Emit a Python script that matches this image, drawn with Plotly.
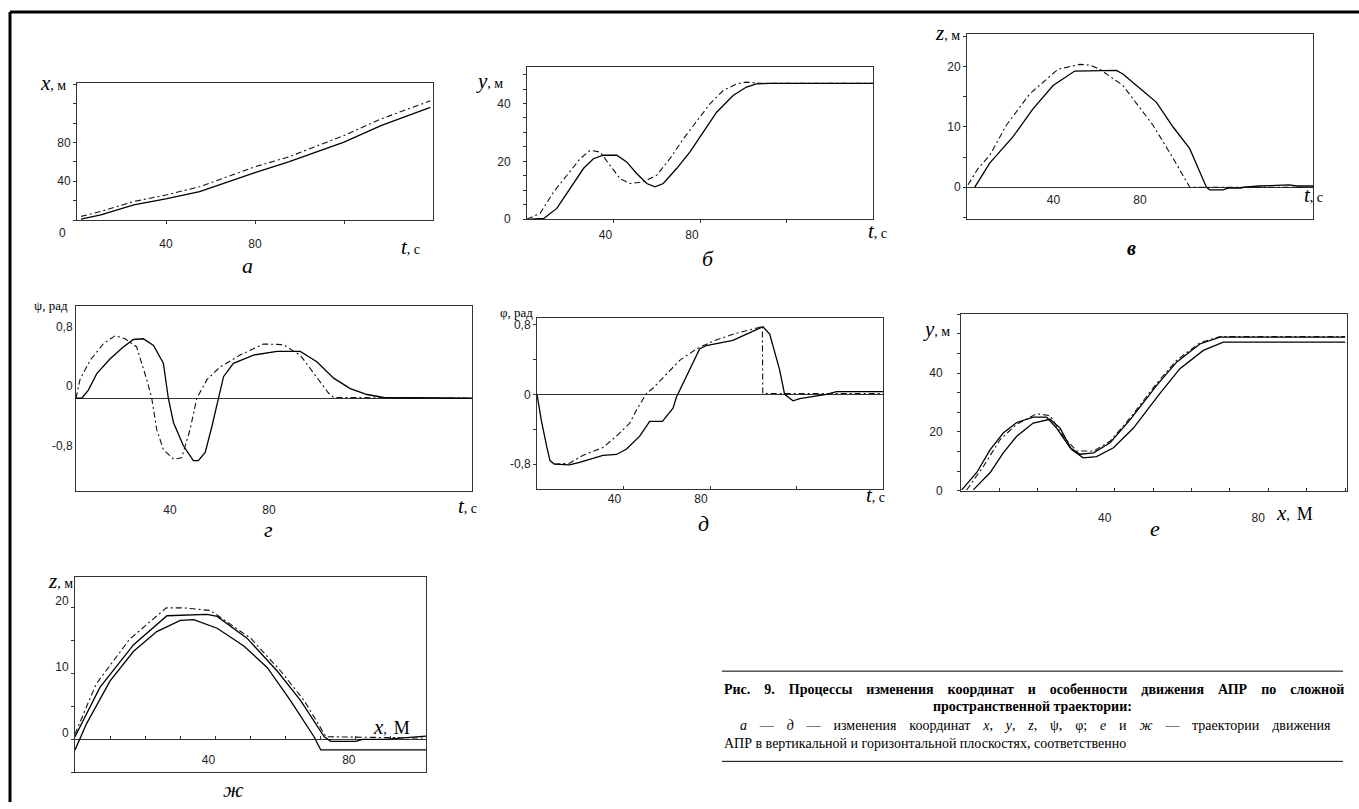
import plotly.graph_objects as go

W, H = 1359, 809

# ---------------- data ----------------
# а: x(t)
a_t_solid = [1.8, 10.7, 25.5, 39.9, 55.1, 69.9, 80, 95.1, 105.5, 120, 136.6, 158.8]
a_x_solid = [1, 5.4, 15.6, 21.8, 29.3, 41.2, 49, 60, 68.4, 80.4, 97.4, 116.1]
a_t_dd = [1.8, 10.7, 25.5, 39.9, 55.1, 69.9, 80, 95.1, 120, 136.6, 158.8]
a_x_dd = [3.8, 8.9, 19.1, 25.8, 34.4, 46.3, 54.9, 65.1, 87.1, 104.2, 122.9]

# б: y(t)
b_t_solid = [1.5, 7.7, 13.8, 20, 26.1, 30.7, 35.3, 41.5, 46.1, 50.7, 55.4, 59.2, 63, 69.2, 75.3, 81.5, 87.7, 95.3, 101.5, 106.1, 112.3, 160]
b_y_solid = [0, 0.2, 3.7, 10.6, 17.5, 20.9, 22.1, 22.1, 19.8, 15.8, 12.3, 11.2, 12.3, 17.5, 23.2, 30.1, 37, 42.8, 45.7, 46.8, 47, 47]
b_t_dd = [0, 6.1, 12.3, 18.5, 24.6, 29.2, 33.8, 38.4, 43, 47.7, 53.8, 60, 66.1, 72.3, 78.4, 84.6, 90.7, 96.9, 101.5, 107.7, 160]
b_y_dd = [0, 2, 9.4, 15.2, 20.9, 23.8, 23.2, 18.6, 14, 12.3, 12.9, 15.2, 20.9, 27.8, 33.6, 39.9, 44.5, 46.8, 47.4, 47, 47]

# в: z(t)
c_t_solid = [3.6, 10.5, 21.3, 30.5, 39.8, 49.8, 69.1, 72.1, 81.4, 87.6, 95.3, 103, 110.7, 112.2, 118.4, 120.7, 126.9, 128, 135.3, 149.2, 152.3, 160]
c_z_solid = [0, 4, 8.4, 13, 16.9, 19.3, 19.4, 18.8, 16, 14.1, 10, 6.4, 0, -0.44, -0.44, -0.16, -0.16, 0, 0.2, 0.38, 0.2, 0.2]
c_t_dd = [0.5, 5.1, 10.5, 18.2, 29, 42.1, 52.1, 56.7, 61.4, 72.1, 86, 95.3, 103, 160]
c_z_dd = [0.4, 3.1, 5.3, 10.3, 15.5, 19.6, 20.4, 20.3, 19.6, 16.9, 10.3, 4.8, 0, 0]

# г: psi(t)
d_t_solid = [0, 2.3, 5, 8.4, 13.8, 19.1, 23.2, 27.2, 31.3, 35.3, 37.3, 39.4, 43.4, 47.4, 49.4, 52.2, 54.9, 57.6, 59.6, 63.6, 71.7, 81.2, 90.6, 97.3, 104.1, 110.8, 117.6, 124.3, 160]
d_psi_solid = [0, 0, 0.11, 0.33, 0.53, 0.69, 0.79, 0.8, 0.71, 0.47, 0, -0.33, -0.64, -0.84, -0.84, -0.73, -0.38, 0, 0.29, 0.47, 0.58, 0.63, 0.63, 0.49, 0.27, 0.13, 0.05, 0.01, 0]
d_t_dd = [0, 1.6, 5.7, 11, 15.8, 19.8, 24.5, 28.6, 30.6, 32.6, 35.3, 39.4, 42.7, 46.1, 48.8, 52.9, 58.2, 66.3, 75.8, 83.8, 90.6, 97.3, 102, 104.1, 160]
d_psi_dd = [0, 0.25, 0.51, 0.73, 0.84, 0.8, 0.69, 0.25, 0, -0.42, -0.69, -0.82, -0.8, -0.42, 0, 0.25, 0.42, 0.58, 0.73, 0.72, 0.58, 0.29, 0.07, 0.01, 0]

# д: phi(t)
e_t_solid = [0, 2, 4.5, 6, 8, 15, 19.7, 30.5, 36.7, 41.3, 47.5, 52.1, 58, 62.9, 64.5, 66, 70.6, 75.2, 78.3, 90.6, 103, 104.5, 107.6, 112.2, 114.5, 118.4, 121.5, 133.8, 138.5, 160]
e_phi_solid = [0, -0.3, -0.6, -0.76, -0.8, -0.81, -0.78, -0.70, -0.69, -0.63, -0.48, -0.31, -0.31, -0.16, -0.03, 0.05, 0.28, 0.52, 0.56, 0.62, 0.76, 0.775, 0.69, 0.28, 0, -0.075, -0.05, 0, 0.03, 0.03]
e_t_dd = [8, 15, 21.3, 30.5, 36.7, 42.9, 46, 50.6, 53.6, 60, 66, 73.7, 81.4, 90.6, 103, 104.2, 104.4, 160]
e_phi_dd = [-0.8, -0.79, -0.70, -0.61, -0.48, -0.33, -0.18, 0.01, 0.07, 0.24, 0.39, 0.52, 0.61, 0.69, 0.77, 0.79, 0.01, 0.01]

# е: y(x)
f_x_A = [0.2, 4.1, 7.6, 11, 14.5, 18.8, 22.3, 24.9, 28.4, 31, 34.5, 38.8, 44, 51, 56.2, 62.2, 67.4, 100]
f_y_A = [0.3, 6.2, 14, 19.6, 23.2, 25, 25, 21.3, 14.6, 12.4, 12.9, 16.3, 24.1, 35.9, 43.8, 49.9, 52.2, 52.2]
f_x_B = [3.2, 7.6, 11, 14.5, 18.8, 23.2, 25.8, 28.8, 31.8, 35.3, 39.7, 44.9, 51.8, 57, 63.1, 68.3, 100]
f_y_B = [0.3, 6.2, 12.9, 18.5, 23, 24.3, 21.3, 14, 11.2, 11.6, 14.6, 21.3, 33.1, 41.5, 47.7, 50.5, 50.5]
f_x_dd = [1.5, 5.9, 10.2, 14.5, 19.7, 23.2, 26.6, 30.1, 34.5, 38.8, 44, 51, 56.2, 62.2, 67.4, 100]
f_y_dd = [0.3, 8.4, 17.4, 22.6, 26.2, 25.5, 18.5, 13.5, 13.5, 16.8, 24.7, 36.6, 44.4, 50.3, 52.4, 52.4]

# ж: z(x)
g_x_A = [0, 7.1, 16.7, 26.2, 37.6, 40.5, 49, 57.6, 64.3, 71, 72.9, 80, 82, 88, 100]
g_z_A = [0.4, 7.9, 14.4, 18.8, 19.0, 18.7, 15.4, 10.4, 5.9, 0.4, -0.3, -0.3, 0, 0, 0.5]
g_x_B = [0, 3.3, 10, 16.7, 23.3, 30, 33.8, 40.5, 48.1, 54.8, 61.4, 68.1, 70, 100]
g_z_B = [-1.6, 2.4, 8.9, 13.4, 16.4, 18.1, 18.2, 16.9, 14.2, 10.9, 5.9, 0.4, -1.6, -1.6]
g_x_dd = [0, 6, 15.5, 26, 31, 38.6, 50, 58.6, 65.3, 71.5, 100]
g_z_dd = [0.8, 8.4, 15.2, 20, 20, 19.6, 15.4, 10.4, 5.9, 0.4, 0.2]

# tick labels
t_ticks = [40, 80, 120]
t_ticktext = ["40", "80", ""]
ang_ticks = [-0.8, 0, 0.8]
ang_ticktext = ["-0,8", "0", "0,8"]

# ---------------- helpers ----------------
def xd(x0, x1):
    return [x0 / W, x1 / W]

def yd(y0, y1):  # y0 top pixel, y1 bottom pixel
    return [1 - y1 / H, 1 - y0 / H]

LC = "#333"
TICKFONT = dict(family="Liberation Sans, Arial", size=12, color="#222")

def base_axis(**kw):
    d = dict(showline=True, mirror=True, linecolor=LC, linewidth=1, showgrid=False,
             zeroline=False, ticks="outside", ticklen=3, tickcolor=LC,
             tickfont=TICKFONT, fixedrange=True)
    d.update(kw)
    return d

def zero_pos(ydom, yrange):
    return ydom[0] + (0 - yrange[0]) / (yrange[1] - yrange[0]) * (ydom[1] - ydom[0])

SOLID = dict(color="black", width=1.3)
DD = dict(color="#111", width=1.1, dash="6px,3px,2px,3px")

fig = go.Figure()

def add(x, y, xa, ya, line):
    fig.add_trace(go.Scatter(x=x, y=y, mode="lines", line=line, xaxis=xa, yaxis=ya,
                             showlegend=False, hoverinfo="skip"))

# а
add(a_t_solid, a_x_solid, "x", "y", SOLID)
add(a_t_dd, a_x_dd, "x", "y", DD)
# б
add(b_t_solid, b_y_solid, "x2", "y2", SOLID)
add(b_t_dd, b_y_dd, "x2", "y2", DD)
# в
add(c_t_solid, c_z_solid, "x3", "y3", SOLID)
add(c_t_dd, c_z_dd, "x8", "y3", DD)
# г
add(d_t_solid, d_psi_solid, "x4", "y4", SOLID)
add(d_t_dd, d_psi_dd, "x4", "y4", DD)
# д
add(e_t_solid, e_phi_solid, "x5", "y5", SOLID)
add(e_t_dd, e_phi_dd, "x5", "y5", DD)
# е
add(f_x_A, f_y_A, "x6", "y6", SOLID)
add(f_x_B, f_y_B, "x6", "y6", SOLID)
add(f_x_dd, f_y_dd, "x6", "y6", DD)
# ж
add(g_x_A, g_z_A, "x7", "y7", SOLID)
add(g_x_B, g_z_B, "x7", "y7", SOLID)
add(g_x_dd, g_z_dd, "x9", "y7", DD)

c_yr = [-5.3, 25.5]
c_yd = yd(34, 221)
g_yr = [-5.0, 24.7]
g_yd = yd(582, 779)

layout = dict(
    width=W, height=H, autosize=False,
    margin=dict(l=0, r=0, t=0, b=0),
    paper_bgcolor="white", plot_bgcolor="white",
    # а
    xaxis=base_axis(domain=xd(77, 433), anchor="y", range=[0, 160],
                    tickvals=t_ticks, ticktext=t_ticktext, ticklabelstandoff=10),
    yaxis=base_axis(domain=yd(84, 222), anchor="x", range=[0, 141],
                    tickvals=[40, 80], minor=dict(dtick=20, ticks="outside", ticklen=3, tickcolor=LC)),
    # б
    xaxis2=base_axis(domain=xd(527, 873), anchor="y2", range=[0, 160],
                     tickvals=t_ticks, ticktext=t_ticktext, ticklabelshift=-8, ticklabelstandoff=2),
    yaxis2=base_axis(domain=yd(68, 221), anchor="x2", range=[0, 52.5],
                     tickvals=[0, 20, 40], ticklabelstandoff=10,
                     minor=dict(dtick=5, ticks="outside", ticklen=3, tickcolor=LC)),
    # в
    xaxis3=base_axis(domain=xd(967, 1313), anchor="y3", range=[0, 160],
                     showticklabels=False, ticks=""),
    yaxis3=base_axis(domain=c_yd, anchor="x3", range=c_yr,
                     tickvals=[0, 10, 20], zeroline=True, zerolinecolor=LC, zerolinewidth=1,
                     minor=dict(dtick=5, ticks="outside", ticklen=3, tickcolor=LC)),
    xaxis8=dict(overlaying="x3", anchor="free", position=zero_pos(c_yd, c_yr),
                range=[0, 160], showline=False, showgrid=False, zeroline=False,
                tickvals=[40, 80], ticks="", tickfont=TICKFONT, ticklabelstandoff=4,
                fixedrange=True),
    # г
    xaxis4=base_axis(domain=xd(76, 472), anchor="y4", range=[0, 160],
                     tickvals=[40, 80], ticklabelshift=-5, ticklabelstandoff=8, ticks=""),
    yaxis4=base_axis(domain=yd(309, 495), anchor="x4", range=[-1.244, 1.236],
                     tickvals=ang_ticks, ticktext=ang_ticktext, ticklabelshift=-12, ticks="",
                     zeroline=True, zerolinecolor=LC, zerolinewidth=1),
    # д
    xaxis5=base_axis(domain=xd(537, 883), anchor="y5", range=[0, 160],
                     tickvals=t_ticks, ticktext=t_ticktext, ticklabelshift=-9,
                     ticks="inside", ticklabelstandoff=-1),
    yaxis5=base_axis(domain=yd(321, 493), anchor="x5", range=[-1.083, 0.873],
                     tickvals=ang_ticks, ticktext=ang_ticktext,
                     zeroline=True, zerolinecolor=LC, zerolinewidth=1,
                     minor=dict(dtick=0.4, ticks="outside", ticklen=3, tickcolor=LC)),
    # е
    xaxis6=base_axis(domain=xd(961, 1347), anchor="y6", range=[0, 100.5],
                     tickvals=[40, 80], ticks="inside", ticklabelshift=-10, ticklabelstandoff=16,
                     minor=dict(dtick=10, ticks="inside", ticklen=3, tickcolor=LC)),
    yaxis6=base_axis(domain=yd(317, 495), anchor="x6", range=[0, 60],
                     tickvals=[0, 20, 40], ticklabelstandoff=12,
                     minor=dict(dtick=20 / 3, ticks="outside", ticklen=3, tickcolor=LC)),
    # ж
    xaxis7=base_axis(domain=xd(75, 426), anchor="y7", range=[0, 100],
                     showticklabels=False, ticks=""),
    yaxis7=base_axis(domain=g_yd, anchor="x7", range=g_yr,
                     tickvals=[0, 10, 20], ticklabelshift=-7,
                     zeroline=True, zerolinecolor=LC, zerolinewidth=1,
                     minor=dict(dtick=5, ticks="outside", ticklen=3, tickcolor=LC)),
    xaxis9=dict(overlaying="x7", anchor="free", position=zero_pos(g_yd, g_yr),
                range=[0, 100], showline=False, showgrid=False, zeroline=False,
                tickvals=[40, 80], ticks="inside", ticklen=3, tickcolor=LC,
                minor=dict(dtick=10, ticks="inside", ticklen=3, tickcolor=LC),
                tickfont=TICKFONT, ticklabelshift=-7, ticklabelstandoff=12, fixedrange=True),
)
fig.update_layout(**layout)

SERIF = "Liberation Serif, Times New Roman, serif"

def ann(text, x, y, size=14, xanchor="center", yanchor="middle", family=SERIF, color="black"):
    return dict(text=text, x=x / W, y=1 - y / H, xref="paper", yref="paper",
                showarrow=False, xanchor=xanchor, yanchor=yanchor,
                font=dict(family=family, size=size, color=color))

def var_title(v, unit, italic=True, vsize=21):
    vv = f"<i>{v}</i>" if italic else v
    return f"<span style='font-size:{vsize}px'>{vv}</span>, {unit}"

# caption lines (lines 1 and 3 are justified in the original -> wider word gaps)
GAP1 = "\u2003"
GAP3 = "\u2002\u2004\u200A"
cap1_words = ["Рис.", "9.", "Процессы", "изменения", "координат", "и", "особенности",
              "движения", "АПР", "по", "сложной"]
cap2 = "пространственной траектории:"
cap3_words = ["<i>а</i>", "—", "<i>д</i>", "—", "изменения", "координат", "<i>x</i>,", "<i>y</i>,",
              "<i>z</i>,", "ψ,", "φ;", "<i>е</i>", "и", "<i>ж</i>", "—", "траектории", "движения"]
cap4 = "АПР в вертикальной и горизонтальной плоскостях, соответственно"

CAP = 14

annotations = [
    # axis titles
    ann(var_title("x", "м"), 68, 84, xanchor="right"),
    ann(var_title("t", "с"), 399, 249, xanchor="left"),
    ann("0", 62, 235, size=12, family="Liberation Sans, Arial", color="#222"),
    ann(var_title("y", "м"), 505, 82, xanchor="right"),
    ann(var_title("t", "с"), 866, 233, xanchor="left"),
    ann(var_title("z", "м"), 962, 33, xanchor="right"),
    ann(var_title("t", "с"), 1302, 197, xanchor="left"),
    ann("ψ, рад", 70, 308, size=13, xanchor="right"),
    ann(var_title("t", "с"), 456, 510, xanchor="left"),
    ann("φ, рад", 535, 315, size=13, xanchor="right"),
    ann(var_title("t", "с"), 864, 499, xanchor="left"),
    ann(var_title("y", "м"), 952, 332, xanchor="right"),
    ann("<span style='font-size:21px'><i>x</i></span>,\u2002<span style='font-size:18px'>М</span>", 1274, 517, xanchor="left"),
    ann(var_title("z", "м"), 75, 586, xanchor="right"),
    ann("<span style='font-size:21px'><i>x</i></span>,\u2002<span style='font-size:18px'>М</span>", 371, 733, xanchor="left"),
    # panel letters
    ann("<i>а</i>", 247, 268, size=22),
    ann("<i>б</i>", 708, 261, size=22),
    ann("<b><i>в</i></b>", 1131, 250, size=20),
    ann("<i>г</i>", 268, 519, size=22, yanchor="top"),
    ann("<i>д</i>", 703, 528, size=22),
    ann("<i>е</i>", 1155, 533, size=22),
    ann("<i>ж</i>", 233, 796, size=22),
    # caption
    ann("<b>" + GAP1.join(cap1_words) + "</b>", 722, 696, size=CAP, xanchor="left"),
    ann("<b>" + cap2 + "</b>", 1032, 713, size=CAP),
    ann(GAP3.join(cap3_words), 738, 732, size=CAP, xanchor="left"),
    ann(cap4, 722, 750, size=CAP, xanchor="left"),
]

shapes = [
    dict(type="line", xref="paper", yref="paper", x0=10 / W, x1=1, y0=1 - 12 / H, y1=1 - 12 / H,
         line=dict(color="black", width=3)),
    dict(type="line", xref="paper", yref="paper", x0=10 / W, x1=10 / W, y0=0, y1=1 - 12 / H,
         line=dict(color="black", width=3)),
    dict(type="line", xref="paper", yref="paper", x0=722 / W, x1=1343 / W, y0=1 - 677 / H, y1=1 - 677 / H,
         line=dict(color="black", width=1)),
    dict(type="line", xref="paper", yref="paper", x0=722 / W, x1=1343 / W, y0=1 - 768 / H, y1=1 - 768 / H,
         line=dict(color="black", width=1)),
]

fig.update_layout(annotations=annotations, shapes=shapes)
fig.write_html("out.html", config={"displayModeBar": False, "staticPlot": True},
               post_script="document.body.style.margin='0px';")
